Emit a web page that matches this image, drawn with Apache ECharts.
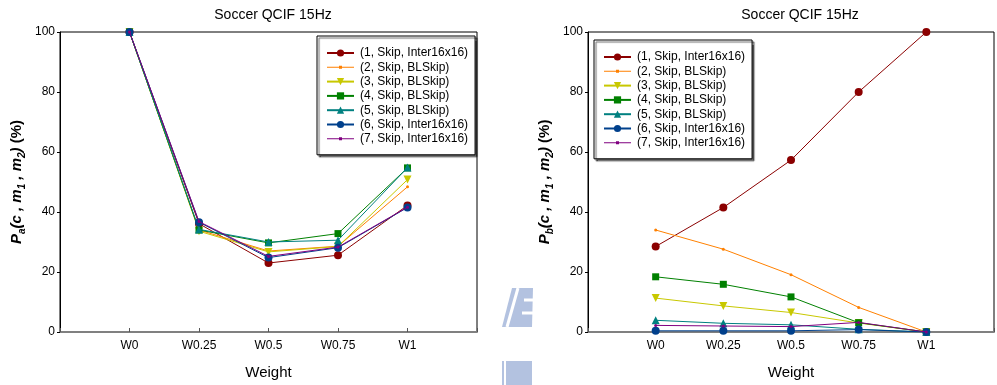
<!DOCTYPE html>
<html><head><meta charset="utf-8">
<script src="https://cdn.jsdelivr.net/npm/echarts@6/dist/echarts.min.js"></script>
<style>html,body{margin:0;padding:0;background:#fff}#c{width:997px;height:385px}</style>
</head><body><div id="c"></div>
<script>
const categories = ['W0', 'W0.25', 'W0.5', 'W0.75', 'W1'];
const yTicks = [0, 20, 40, 60, 80, 100];
const seriesNames = ['(1, Skip, Inter16x16)', '(2, Skip, BLSkip)', '(3, Skip, BLSkip)', '(4, Skip, BLSkip)', '(5, Skip, BLSkip)', '(6, Skip, Inter16x16)', '(7, Skip, Inter16x16)'];
// Left chart: Pa
const pa1 = [100, 36.1, 23.0, 25.6, 42.2];
const pa2 = [100, 34.0, 27.0, 28.6, 48.4];
const pa3 = [100, 33.6, 26.7, 28.5, 50.8];
const pa4 = [100, 34.0, 29.7, 32.8, 54.7];
const pa5 = [100, 34.2, 30.0, 30.6, 54.8];
const pa6 = [100, 36.6, 24.8, 28.1, 41.5];
const pa7 = [100, 36.8, 25.2, 28.3, 41.6];
// Right chart: Pb
const pb1 = [28.5, 41.5, 57.3, 80.0, 100];
const pb2 = [34.0, 27.6, 19.1, 8.2, 0];
const pb3 = [11.3, 8.7, 6.5, 3.0, 0];
const pb4 = [18.4, 15.9, 11.7, 3.1, 0];
const pb5 = [3.9, 2.9, 2.4, 0.9, 0];
const pb6 = [0.4, 0.4, 0.4, 0.8, 0];
const pb7 = [2.2, 2.0, 1.8, 3.2, 0];

const paData = [pa1, pa2, pa3, pa4, pa5, pa6, pa7];
const pbData = [pb1, pb2, pb3, pb4, pb5, pb6, pb7];

const styles = [
  {color: '#8b0000', symbol: 'circle', size: 8, rot: 0},
  {color: '#ff8000', symbol: 'circle', size: 3, rot: 0},
  {color: '#c8c800', symbol: 'triangle', size: 8, rot: 180},
  {color: '#008000', symbol: 'rect', size: 7, rot: 0},
  {color: '#008080', symbol: 'triangle', size: 8, rot: 0},
  {color: '#00408c', symbol: 'circle', size: 8, rot: 0},
  {color: '#800080', symbol: 'circle', size: 3, rot: 0}
];

const FONT = 'Liberation Sans, Arial, sans-serif';
const DOT_ICON = 'path://M0,1L27,1L27,2L0,2Z M12,0L15,0L15,3L12,3Z';

function xAxis(gi) {
  return {
    type: 'value', gridIndex: gi, min: -1, max: 5, interval: 1,
    axisLine: {show: true, onZero: false, lineStyle: {color: '#808080', width: 2}},
    axisTick: {show: true, inside: true, length: 4, lineStyle: {color: '#555'}},
    axisLabel: {color: '#000', fontSize: 12, fontFamily: FONT, margin: 8,
      formatter: v => (v >= 0 && v < categories.length) ? categories[v] : ''},
    splitLine: {show: false},
    name: 'Weight', nameLocation: 'middle', nameGap: 33,
    nameTextStyle: {color: '#000', fontSize: 15, fontFamily: FONT}
  };
}
function yAxis(gi, sub) {
  return {
    type: 'value', gridIndex: gi, min: yTicks[0], max: yTicks[yTicks.length - 1], interval: 20,
    axisLine: {show: true, onZero: false, lineStyle: {color: '#000', width: 1}},
    axisTick: {show: true, length: 3, lineStyle: {color: '#000'}},
    axisLabel: {color: '#000', fontSize: 12, fontFamily: FONT, margin: 5},
    splitLine: {show: false},
    name: '{i|P}{s|' + sub + '}{i|(c , m}{s|1}{i| , m}{s|2}{i|)}{b| (%)}',
    nameLocation: 'middle', nameGap: 33, nameRotate: 90,
    nameTextStyle: {
      rich: {
        i: {fontSize: 15, fontWeight: 'bold', fontStyle: 'italic', fontFamily: FONT, color: '#000', lineHeight: 20, verticalAlign: 'middle'},
        b: {fontSize: 15, fontWeight: 'bold', fontFamily: FONT, color: '#000', lineHeight: 20, verticalAlign: 'middle'},
        s: {fontSize: 10, fontWeight: 'bold', fontStyle: 'italic', fontFamily: FONT, color: '#000', lineHeight: 20, verticalAlign: 'bottom', padding: [8, 0, 0, 0]}
      }
    }
  };
}

const series = [];
[paData, pbData].forEach((set, gi) => {
  set.forEach((vals, k) => {
    const st = styles[k];
    series.push({
      name: seriesNames[k], type: 'line', xAxisIndex: gi, yAxisIndex: gi,
      data: vals.map((v, i) => [i, v]),
      symbol: st.symbol, symbolSize: st.size, symbolRotate: st.rot,
      showAllSymbol: true, animation: false,
      lineStyle: {color: st.color, width: 1},
      itemStyle: {color: st.color, borderWidth: 0},
      emphasis: {disabled: true}, z: 2 + k
    });
  });
});

function legend(left, top) {
  return {
    orient: 'vertical', left: left, top: top,
    data: seriesNames.map((n, k) => (styles[k].size < 5 ? {name: n, icon: DOT_ICON} : {name: n})),
    itemWidth: 27, itemHeight: 9, itemGap: 2.3, padding: [11, 7, 10, 9],
    backgroundColor: '#fff', borderColor: '#000', borderWidth: 1,
    shadowColor: 'rgba(0,0,0,0.6)', shadowOffsetX: 2, shadowOffsetY: 2, shadowBlur: 1,
    selectedMode: false,
    textStyle: {color: '#000', fontSize: 12, fontFamily: FONT, padding: [0, 0, 0, 1]}
  };
}

const chart = echarts.init(document.getElementById('c'), null, {renderer: 'canvas'});
chart.setOption({
  animation: false,
  backgroundColor: '#fff',
  title: [
    {text: 'Soccer QCIF 15Hz', left: 268, top: 3, textAlign: 'center', textStyle: {fontSize: 14, fontWeight: 'normal', color: '#000', fontFamily: FONT}},
    {text: 'Soccer QCIF 15Hz', left: 795, top: 3, textAlign: 'center', textStyle: {fontSize: 14, fontWeight: 'normal', color: '#000', fontFamily: FONT}}
  ],
  grid: [
    {left: 60, top: 32, width: 417, height: 300, show: true, borderColor: '#000', borderWidth: 1, containLabel: false},
    {left: 588, top: 32, width: 416, height: 300, show: true, borderColor: '#000', borderWidth: 1, containLabel: false}
  ],
  xAxis: [xAxis(0), xAxis(1)],
  yAxis: [yAxis(0, 'a'), yAxis(1, 'b')],
  legend: [legend(317, 36), legend(594, 40)],
  graphic: [
    {type: 'polygon', shape: {points: [[512, 288], [533, 288], [532, 327], [502, 327]]}, style: {fill: '#b3c2e0'}, z: 0, silent: true},
    {type: 'line', shape: {x1: 518, y1: 288, x2: 507, y2: 327}, style: {stroke: '#fff', lineWidth: 3}, z: 0, silent: true},
    {type: 'line', shape: {x1: 524, y1: 300, x2: 533, y2: 300}, style: {stroke: '#fff', lineWidth: 3}, z: 0, silent: true},
    {type: 'line', shape: {x1: 522, y1: 313, x2: 533, y2: 313}, style: {stroke: '#fff', lineWidth: 3}, z: 0, silent: true},
    {type: 'rect', shape: {x: 502, y: 361, width: 2, height: 24}, style: {fill: '#b3c2e0'}, z: 0, silent: true},
    {type: 'rect', shape: {x: 506, y: 361, width: 26, height: 24}, style: {fill: '#b3c2e0'}, z: 0, silent: true}
  ],
  series: series
});
</script>
</body></html>
